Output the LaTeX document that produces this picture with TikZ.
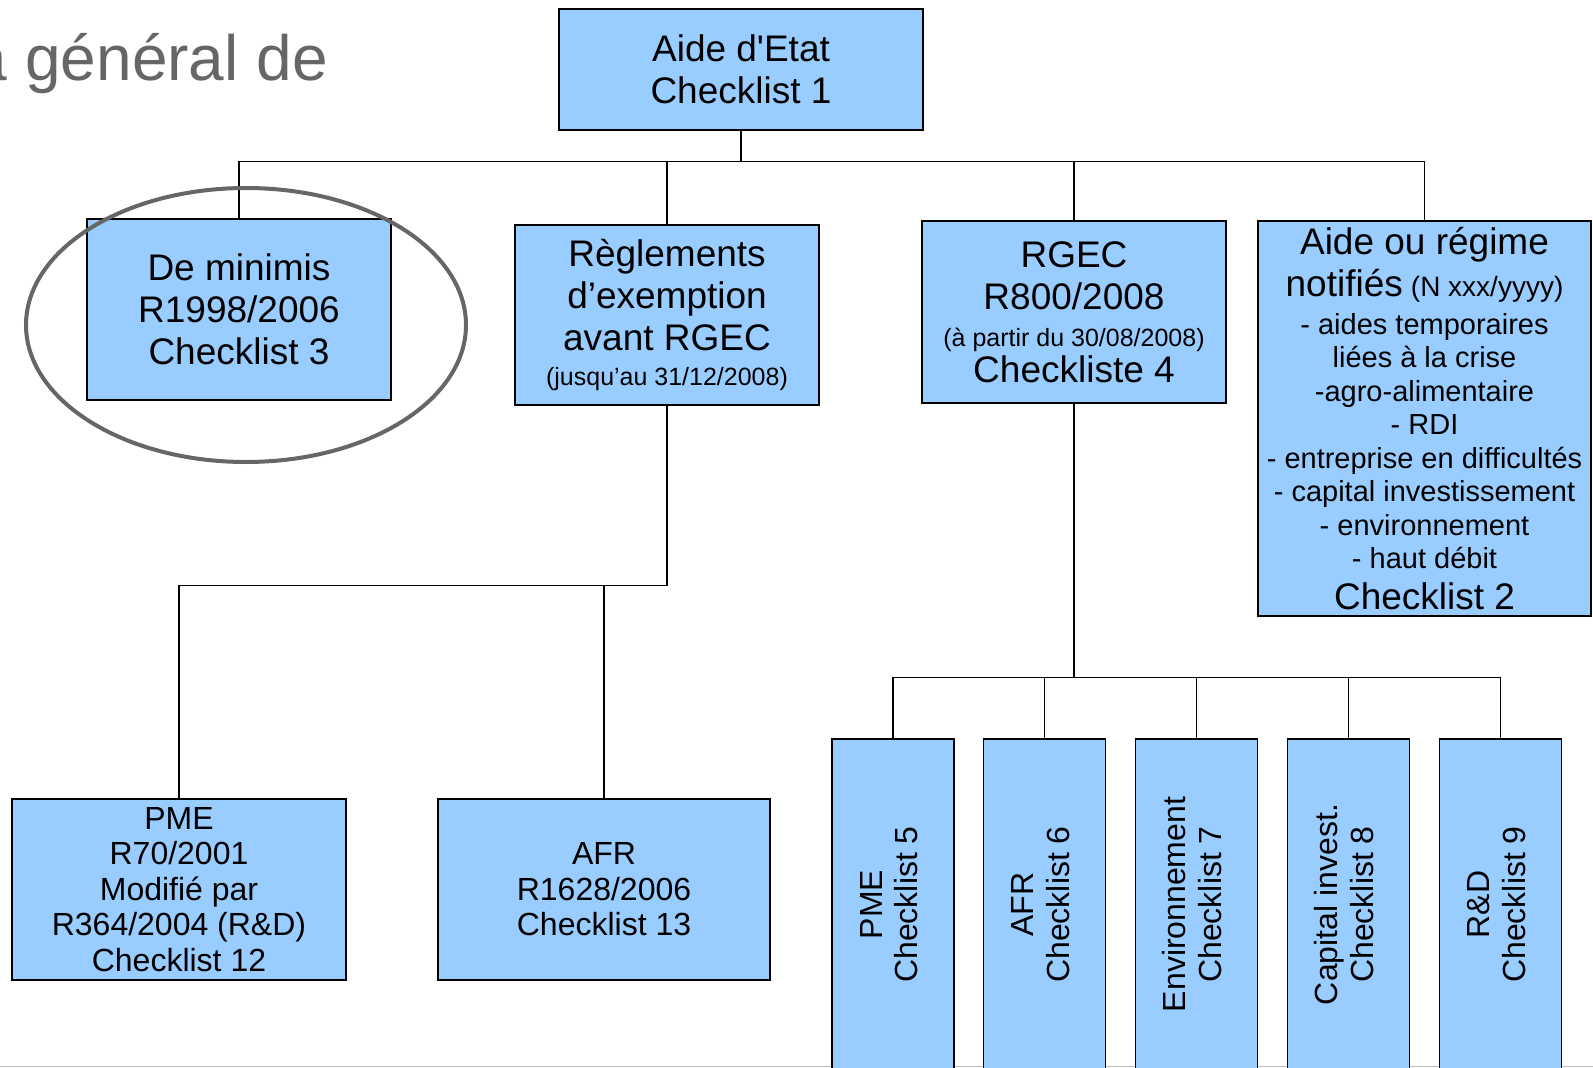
\documentclass[tikz,border=0pt]{standalone}
\usepackage{fontspec}
\setmainfont{Liberation Sans}
\usepackage{tikz}
\definecolor{boxblue}{HTML}{99CCFF}
\definecolor{titlegray}{HTML}{666666}
\newcommand\fbig{\fontsize{37}{42}\selectfont}
\newcommand\fmid{\fontsize{32}{35.5}\selectfont}
\newcommand\flist{\fontsize{29}{33.5}\selectfont}
\newcommand\fsmall{\fontsize{25}{30}\selectfont}
\tikzstyle{box}=[rectangle, draw=black, fill=boxblue, line width=1.3pt, align=center, inner sep=0pt]
\tikzstyle{link}=[line width=1.3pt, black]
\newcommand\vlabel[2]{\rotatebox{90}{\begin{tabular}{@{}c@{}}#1\\#2\end{tabular}}}

\begin{document}
\begin{tikzpicture}[x=1pt, y=-1pt]
    \useasboundingbox (0,0) rectangle (1593,1068);
    \draw[black!25, line width=1.5pt] (0,1066.5) -- (1593,1066.5);

    \node[anchor=base east, inner sep=0pt, text=titlegray, font=\fontsize{64}{70}\selectfont] (title) at (328,80) {a général de};

    \node[box, minimum width=364pt, minimum height=121pt, font=\fbig] (1) at (741,69.5) {Aide d\textquotesingle Etat\\Checklist 1};

    \node[box, minimum width=304pt, minimum height=181pt, font=\fbig] (21) at (239,309.5) {De minimis\\R1998/2006\\Checklist 3};
    \node[box, minimum width=304pt, minimum height=180pt, font=\fbig] (22) at (667,315) {Règlements\\d’exemption\\avant RGEC\\[-7pt]{\fsmall (jusqu’au 31/12/2008)}};
    \node[box, minimum width=304pt, minimum height=182pt, font=\fbig] (23) at (1074,312) {RGEC\\R800/2008\\[-5pt]{\fsmall (à partir du 30/08/2008)}\\[-6pt]Checkliste 4};
    \node[box, minimum width=333pt, minimum height=395pt, font=\flist] (24) at (1424.5,418.5) {{\fbig Aide ou régime}\\[6pt]{\fbig notifiés} {\fontsize{28}{33.5}\selectfont (N xxx/yyyy)}\\[4pt]- aides temporaires\\liées à la crise\\-agro-alimentaire\\- RDI\\- entreprise en difficultés\\- capital investissement\\- environnement\\- haut débit\\[7pt]{\fbig Checklist 2}};

    \node[box, minimum width=334pt, minimum height=181pt, font=\fmid] (31) at (179,889.5) {PME\\R70/2001\\Modifié par\\R364/2004 (R\&D)\\Checklist 12};
    \node[box, minimum width=332pt, minimum height=181pt, font=\fmid] (32) at (604,889.5) {AFR\\R1628/2006\\Checklist 13};

    \node[box, minimum width=122pt, minimum height=331pt, font=\fmid] (41) at (893,904.5) {\vlabel{PME}{Checklist 5}};
    \node[box, minimum width=122pt, minimum height=331pt, font=\fmid] (42) at (1044.5,904.5) {\vlabel{AFR}{Checklist 6}};
    \node[box, minimum width=122pt, minimum height=331pt, font=\fmid] (43) at (1196.5,904.5) {\vlabel{Environnement}{Checklist 7}};
    \node[box, minimum width=122pt, minimum height=331pt, font=\fmid] (44) at (1348.5,904.5) {\vlabel{Capital invest.}{Checklist 8}};
    \node[box, minimum width=122pt, minimum height=331pt, font=\fmid] (45) at (1500.5,904.5) {\vlabel{R\&D}{Checklist 9}};

    \foreach \from/\to in {1/21, 1/22, 1/23, 1/24}
      \draw[link] (\from.south) -- ++(0,30.5) -| (\to.north);
    \foreach \to in {31, 32}
      \draw[link] (22.south) -- ++(0,180) -| (\to.north);
    \foreach \to in {41, 42, 43, 44, 45}
      \draw[link] (23.south) -- ++(0,274) -| (\to.north);

    \draw[titlegray, line width=4pt] (246,325) ellipse [x radius=220, y radius=137];
  \end{tikzpicture}
\end{document}
